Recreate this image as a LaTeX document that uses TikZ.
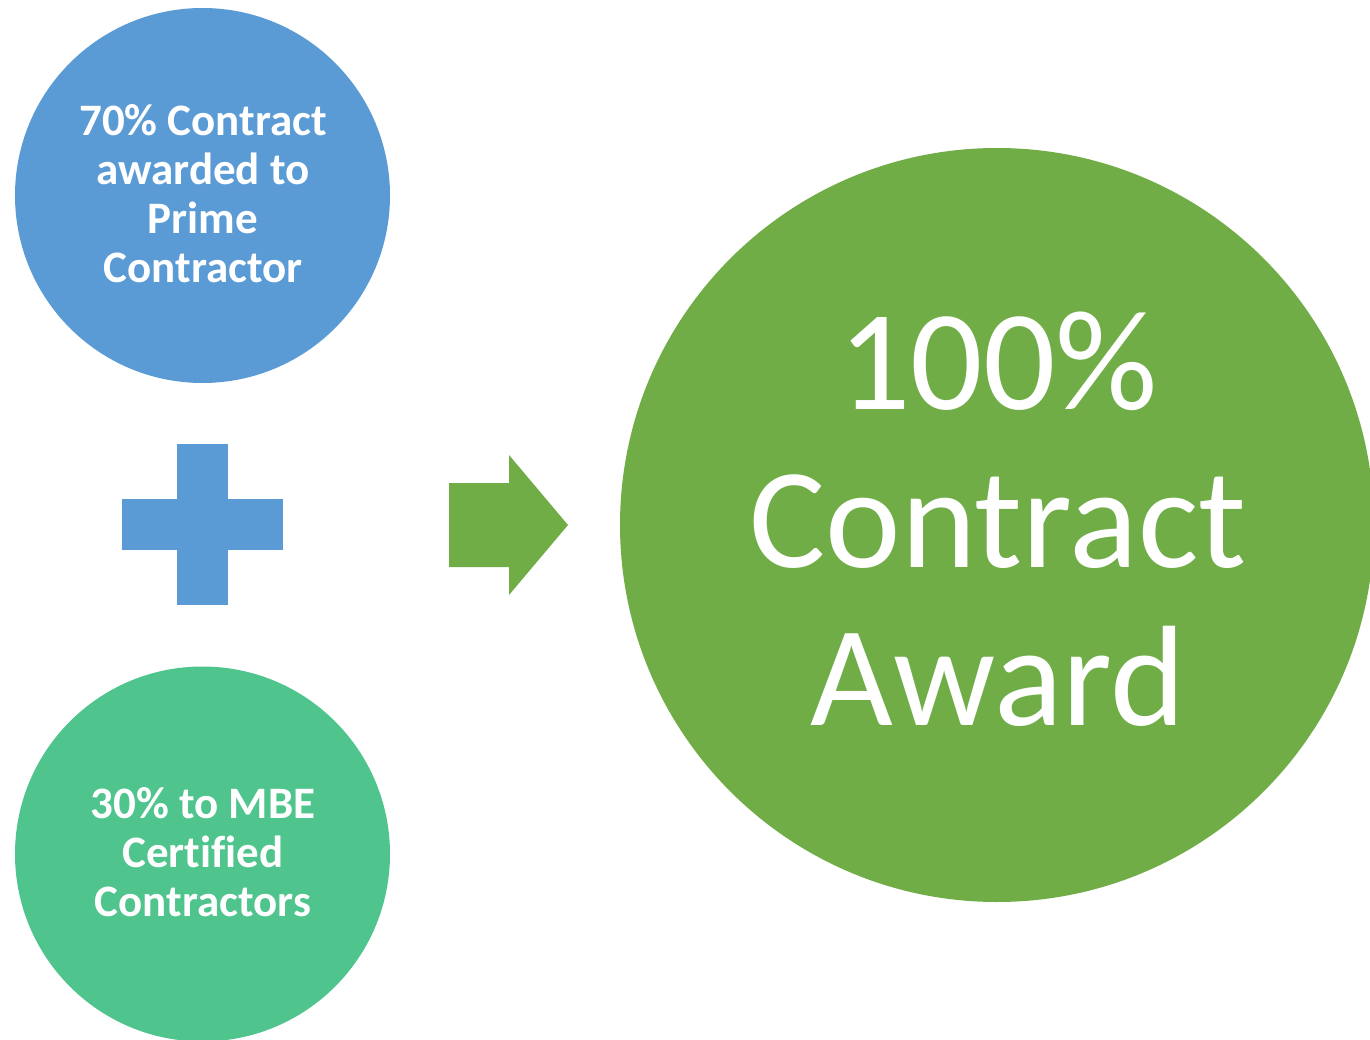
\documentclass[tikz,border=0pt]{standalone}
\usepackage{fontspec}
\setmainfont[Ligatures=CommonOff]{Carlito}
\definecolor{primeblue}{HTML}{5B9BD5}
\definecolor{mbeteal}{HTML}{4FC48D}
\definecolor{awardgreen}{HTML}{70AD47}
\begin{document}
\begin{tikzpicture}
	[	x=1pt,y=-1pt,
	disc/.style={circle,draw=none,inner sep=0pt},
	smalltxt/.style={text=white,align=center,inner sep=0pt,font=\bfseries\fontsize{45}{49}\selectfont},
	bigtxt/.style={text=white,align=center,inner sep=0pt,font=\fontsize{143}{158}\selectfont}
	]
	\useasboundingbox (0,0) rectangle (1370,1040);
	% the three circles
	\node[disc,fill=primeblue,minimum size=375pt] (prime) at (202.5,195.5){};
	\node[disc,fill=mbeteal,minimum size=375pt] (mbe) at (202.5,854){};
	\node[disc,fill=awardgreen,minimum size=754pt] (award) at (997,525){};
\node[smalltxt] (primetxt) at (203,193.5){70\% Contract\\awarded to\\Prime\\Contractor};
\node[smalltxt] (mbetxt) at (203,852){30\% to MBE\\Certified\\Contractors};
\node[bigtxt] (awardtxt) at (998,519){100\%\\Contract\\Award};
	% plus sign
	\fill[primeblue] (177,444) rectangle (228,605);
	\fill[primeblue] (122,499) rectangle (283,550);
	% arrow
	\fill[awardgreen] (449,483) -- (509,483) -- (509,455) -- (568,525) -- (509,595) -- (509,567) -- (449,567) -- cycle;
\end{tikzpicture}
\end{document}
